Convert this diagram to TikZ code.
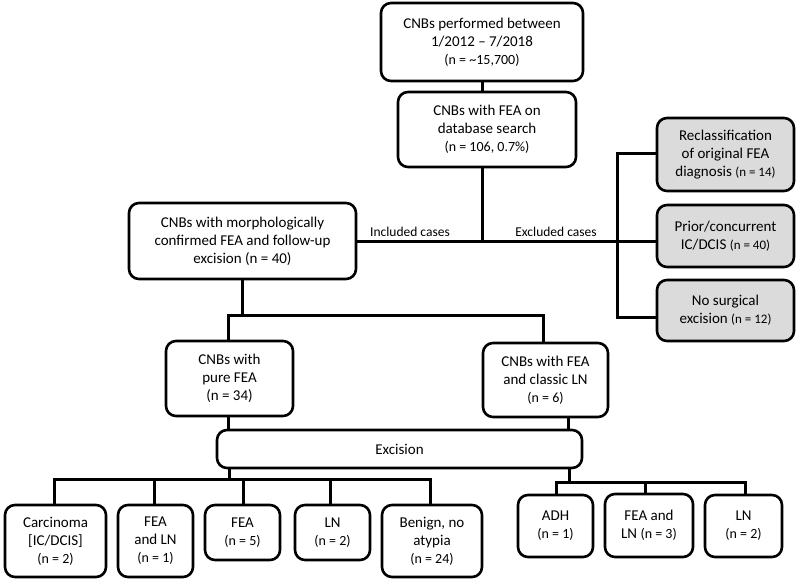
\documentclass[tikz,border=0pt]{standalone}
\usepackage{fontspec}
\setmainfont{Carlito}
\begin{document}
\begin{tikzpicture}[x=1pt,y=-1pt,
  box/.style={draw=black,line width=2.6pt,rounded corners=10pt,fill=white,align=center,inner sep=0pt,
     font=\fontsize{15}{18}\selectfont},
  gbox/.style={box,fill=gray!28},
  conn/.style={line width=3pt,line cap=rect},
  lbl/.style={font=\fontsize{13.5}{16}\selectfont,inner sep=0pt}]
\newcommand{\nn}[1]{{\fontsize{14}{16}\selectfont #1}}
\newcommand{\ns}[1]{{\fontsize{13}{16}\selectfont #1}}
\useasboundingbox (0,0) rectangle (800,584);
% top
\node[box,minimum width=202pt,minimum height=78pt] (b1) at (482,42) {CNBs performed between\\1/2012 -- 7/2018\\\nn{(n = \textasciitilde15,700)}};
\node[box,minimum width=178pt,minimum height=75pt] (b2) at (487,129.5) {CNBs with FEA on\\database search\\\nn{(n = 106, 0.7\%)}};
\node[box,minimum width=227pt,minimum height=76pt] (b3) at (242.5,241) {CNBs with morphologically\\confirmed FEA and follow-up\\excision (n = 40)};
% excluded
\node[gbox,minimum width=137pt,minimum height=73pt] (ga) at (725.5,154.5) {Reclassification\\of original FEA\\diagnosis \ns{(n = 14)}};
\node[gbox,minimum width=137pt,minimum height=62pt] (gb) at (725.5,236) {Prior/concurrent\\IC/DCIS \ns{(n = 40)}};
\node[gbox,minimum width=137pt,minimum height=61pt] (gc) at (725.5,310.5) {No surgical\\excision \ns{(n = 12)}};
% middle
\node[box,minimum width=127pt,minimum height=75pt] (pure) at (229.5,378.5) {CNBs with\\pure FEA\\(n = 34)};
\node[box,minimum width=125pt,minimum height=74pt] (fealn) at (545.5,380) {CNBs with FEA\\and classic LN\\\nn{(n = 6)}};
\node[box,minimum width=365pt,minimum height=38pt] (exc) at (399.5,449) {Excision};
% bottom left
\node[box,minimum width=101pt,minimum height=72pt] (c1) at (55.5,541) {Carcinoma\\{[IC/DCIS]}\\\nn{(n = 2)}};
\node[box,minimum width=75pt,minimum height=72pt] (c2) at (155.5,541) {FEA\\and LN\\\nn{(n = 1)}};
\node[box,minimum width=75pt,minimum height=55pt] (c3) at (242.5,532.5) {FEA\\\nn{(n = 5)}};
\node[box,minimum width=75pt,minimum height=55pt] (c4) at (332.5,532.5) {LN\\\nn{(n = 2)}};
\node[box,minimum width=100pt,minimum height=72pt] (c5) at (432,541) {Benign, no\\atypia\\\nn{(n = 24)}};
% bottom right
\node[box,minimum width=75pt,minimum height=62pt] (r1) at (555.5,526) {ADH\\\nn{(n = 1)}};
\node[box,minimum width=88pt,minimum height=63pt] (r2) at (649,525.5) {FEA and\\LN \nn{(n = 3)}};
\node[box,minimum width=77pt,minimum height=62pt] (r3) at (743.5,526) {LN\\\nn{(n = 2)}};
% junction coordinates
\coordinate (j1) at (482,241);
\coordinate (jx) at (617,241);
\coordinate (jxt) at (617,153);
\coordinate (jxb) at (617,317);
\coordinate (j2) at (242,315);
\coordinate (j2l) at (228,315);
\coordinate (j2r) at (543,315);
\coordinate (j3) at (229,479);
\coordinate (j3l) at (54,479);
\coordinate (j3r) at (430,479);
\coordinate (j4) at (569,482);
\coordinate (j4l) at (556,482);
\coordinate (j4r) at (745,482);
% connectors
\draw[conn] (b1.south -| j1) -- (b2.north -| j1);
\draw[conn] (b2.south -| j1) -- (j1);
\draw[conn] (b3.east) -- (jx);
\draw[conn] (jxt) -- (jxb);
\draw[conn] (jxt) -- (jxt -| ga.west);
\draw[conn] (jx) -- (jx -| gb.west);
\draw[conn] (jxb) -- (jxb -| gc.west);
\node[lbl,anchor=base] (inc) at (410,236) {Included cases};
\node[lbl,anchor=base] (exl) at (556,236) {Excluded cases};
\draw[conn] (b3.south -| j2) -- (j2);
\draw[conn] (j2l) -- (j2r);
\draw[conn] (j2l) -- (j2l |- pure.north);
\draw[conn] (j2r) -- (j2r |- fealn.north);
\draw[conn] (pure.south -| j2l) -- (exc.north -| j2l);
\draw[conn] (fealn.south -| 568,0) -- (exc.north -| 568,0);
\draw[conn] (exc.south -| j3) -- (j3);
\draw[conn] (j3l) -- (j3r);
\draw[conn] (j3l) -- (j3l |- c1.north);
\draw[conn] (154,479) -- (c2.north -| 154,0);
\draw[conn] (243,479) -- (c3.north -| 243,0);
\draw[conn] (330,479) -- (c4.north -| 330,0);
\draw[conn] (j3r) -- (j3r |- c5.north);
\draw[conn] (exc.south -| j4) -- (j4);
\draw[conn] (j4l) -- (j4r);
\draw[conn] (j4l) -- (j4l |- r1.north);
\draw[conn] (645,482) -- (r2.north -| 645,0);
\draw[conn] (j4r) -- (j4r |- r3.north);
\end{tikzpicture}
\end{document}
